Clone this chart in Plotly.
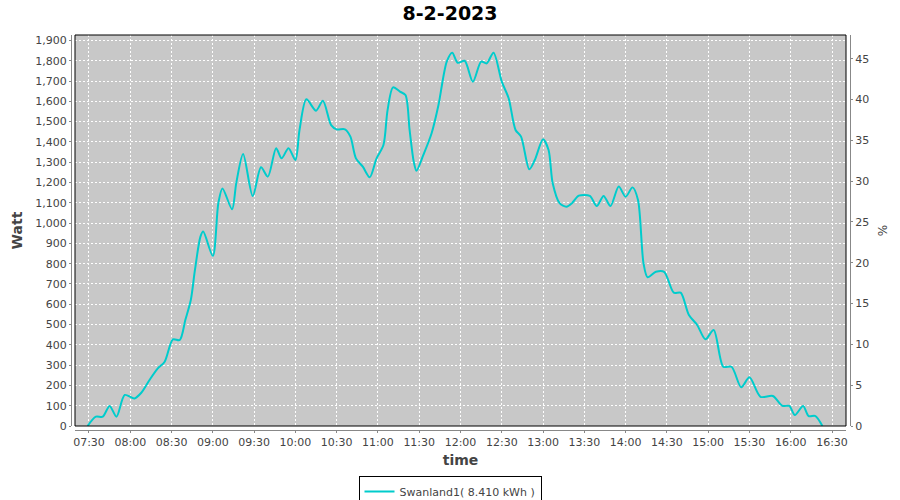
import plotly.graph_objects as go

DAY = "2023-02-08 "

times = ["07:29", "07:35", "07:40", "07:45", "07:50", "07:56", "08:03", "08:08", "08:14", "08:20",
         "08:25", "08:31", "08:36", "08:40", "08:44", "08:47", "08:51", "08:53", "09:00", "09:04",
         "09:07", "09:14", "09:17", "09:22", "09:29", "09:35", "09:40", "09:46", "09:50", "09:55",
         "10:00", "10:03", "10:08", "10:15", "10:20", "10:26", "10:30", "10:36", "10:40", "10:44",
         "10:49", "10:54", "10:59", "11:04", "11:07", "11:11", "11:16", "11:20", "11:23", "11:26",
         "11:28", "11:33", "11:39", "11:44", "11:50", "11:54", "11:58", "12:03", "12:09", "12:15",
         "12:19", "12:24", "12:30", "12:35", "12:40", "12:44", "12:50", "12:54", "13:00", "13:04",
         "13:07", "13:12", "13:17", "13:21", "13:26", "13:34", "13:39", "13:44", "13:49", "13:55",
         "14:00", "14:05", "14:09", "14:13", "14:16", "14:22", "14:28", "14:35", "14:40", "14:46",
         "14:52", "14:58", "15:04", "15:11", "15:17", "15:24", "15:30", "15:38", "15:47", "15:54",
         "15:59", "16:03", "16:09", "16:13", "16:18", "16:23"]

watts = [0, 46, 46, 99, 46, 153, 136, 164, 227, 284,
         317, 427, 424, 522, 621, 769, 933, 958, 838, 1098,
         1171, 1068, 1196, 1341, 1133, 1275, 1229, 1369, 1319, 1369,
         1311, 1459, 1610, 1554, 1603, 1483, 1462, 1462, 1426, 1319,
         1278, 1226, 1319, 1385, 1557, 1669, 1648, 1631, 1459, 1303,
         1258, 1336, 1443, 1582, 1796, 1840, 1790, 1800, 1697, 1796,
         1787, 1840, 1697, 1615, 1459, 1426, 1265, 1311, 1413, 1360,
         1196, 1098, 1081, 1098, 1135, 1134, 1084, 1134, 1084, 1180,
         1130, 1176, 1114, 802, 733, 760, 760, 657, 657, 547,
         498, 427, 473, 292, 292, 191, 240, 144, 148, 99,
         99, 54, 99, 49, 49, 0]

tick_times = ["07:30", "08:00", "08:30", "09:00", "09:30", "10:00", "10:30", "11:00", "11:30", "12:00",
              "12:30", "13:00", "13:30", "14:00", "14:30", "15:00", "15:30", "16:00", "16:30"]

series_name = "Swanland1( 8.410 kWh )"
title_text = "8-2-2023"

W_MAX = 1927
PCT_MAX = 47.9

FONT = "DejaVu Sans"
GRAY = "#444444"
AXC = "#888888"

x = [DAY + t for t in times]

fig = go.Figure()
fig.add_trace(go.Scatter(
    x=x, y=watts, mode="lines", name=series_name,
    line=dict(color="#00CCCC", width=2, shape="spline", smoothing=0.8),
    showlegend=True,
))
# invisible trace to activate the right axis
fig.add_trace(go.Scatter(x=[x[0]], y=[0], yaxis="y2", mode="markers",
                         marker=dict(opacity=0), showlegend=False, hoverinfo="skip"))

L, R, T, B = 65, 44, 35, 64
PW = 900 - L - R
PH = 500 - T - B
xd0 = (75 - L) / PW
xd1 = (846 - L) / PW
yd0 = (500 - B - 426) / PH

fig.update_layout(
    width=900, height=500,
    margin=dict(l=L, r=R, t=T, b=B, autoexpand=False),
    paper_bgcolor="white",
    plot_bgcolor="#C8C8C8",
    font=dict(family=FONT, color=GRAY, size=11),
    title=dict(text=title_text, x=0.5, xanchor="center", y=1 - 13.5 / 500, yanchor="middle",
               font=dict(family=FONT, size=19, color="black", weight="bold")),
    xaxis=dict(
        domain=[xd0, xd1], anchor="free", position=(500 - B - 430) / PH, automargin=False,
        range=[DAY + "07:19:50", DAY + "16:40:10"],
        tickvals=[DAY + t for t in tick_times], ticktext=tick_times,
        showline=True, linecolor=AXC, linewidth=1,
        ticks="outside", ticklen=2, tickcolor=AXC,
        showgrid=True, gridcolor="white", griddash="2px,2px", gridwidth=1,
        zeroline=False, tickfont=dict(size=11, color=GRAY),
        title=dict(text="time", font=dict(size=14, color=GRAY, weight="bold"), standoff=6),
    ),
    yaxis=dict(
        domain=[yd0, 1], anchor="free", position=(71 - L) / PW, automargin=False,
        range=[0, W_MAX], tickmode="linear", tick0=0, dtick=100, tickformat=",d",
        showline=True, linecolor=AXC, linewidth=1,
        ticks="outside", ticklen=2, tickcolor=AXC,
        showgrid=True, gridcolor="white", griddash="2px,2px", gridwidth=1,
        zeroline=False, tickfont=dict(size=11, color=GRAY),
        title=dict(text="Watt", font=dict(size=14, color=GRAY, weight="bold"), standoff=8),
    ),
    yaxis2=dict(
        overlaying="y", side="right", anchor="free", position=(850 - L) / PW, automargin=False,
        range=[0, PCT_MAX], tickmode="linear", tick0=0, dtick=5,
        showline=True, linecolor=AXC, linewidth=1,
        ticks="outside", ticklen=2, tickcolor=AXC,
        showgrid=False, zeroline=False, tickfont=dict(size=11, color=GRAY),
        title=dict(text="%", font=dict(size=12, color=GRAY), standoff=10),
    ),
    legend=dict(
        orientation="h", x=(450 - L) / PW, xanchor="center",
        y=(500 - B - 476) / PH, yanchor="top",
        bordercolor="black", borderwidth=1, bgcolor="white",
        font=dict(size=11, color=GRAY), itemwidth=30,
    ),
    shapes=[dict(type="rect", xref="paper", yref="paper", x0=xd0, x1=xd1, y0=yd0, y1=1,
                 line=dict(color="black", width=1), fillcolor="rgba(0,0,0,0)", layer="above")],
)

fig.write_html("out.html", config={"displayModeBar": False},
               post_script="document.body.style.margin='0';")
